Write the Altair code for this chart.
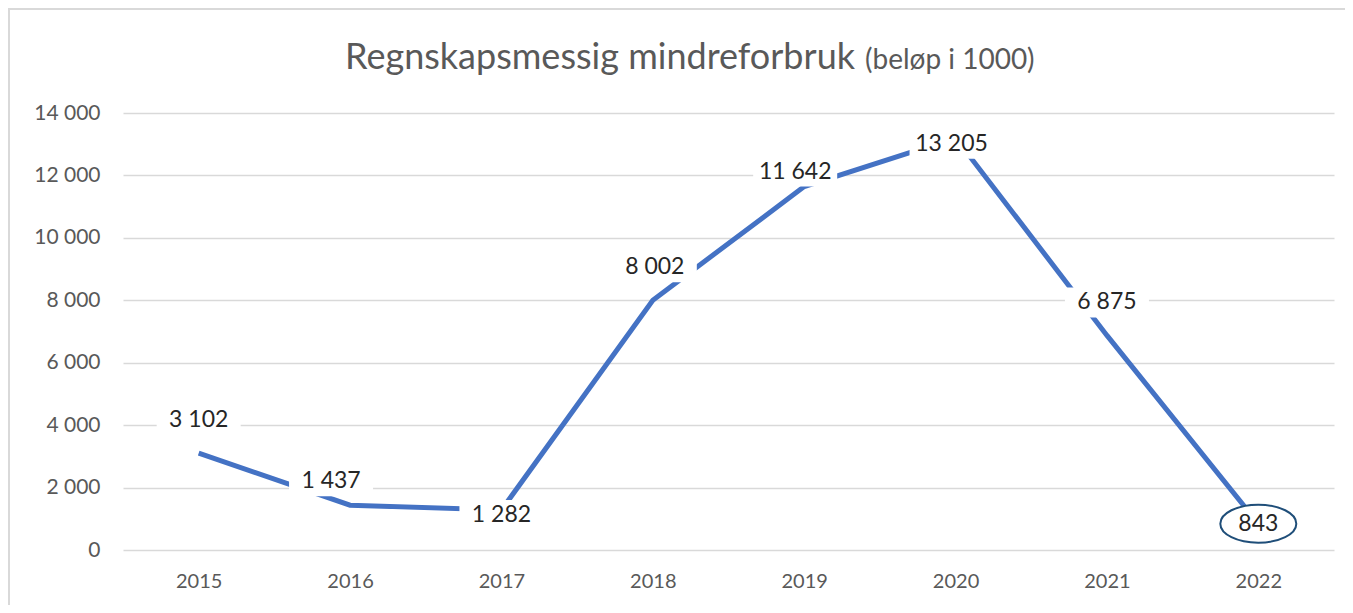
import altair as alt
import pandas as pd

# ---- data ----
years = ["2015", "2016", "2017", "2018", "2019", "2020", "2021", "2022"]
values = [3102, 1437, 1282, 8002, 11642, 13205, 6875, 843]
# label placement offsets (pixels) relative to each data point
label_dx = [0, -19, 0, 2, -9, -4, 0, 0]
label_dy = [-33, -24, 5, -33, -15, 6, -33, 0]
highlight_years = ["2022"]
y_ticks = [0, 2000, 4000, 6000, 8000, 10000, 12000, 14000]
title_main = "Regnskapsmessig mindreforbruk"
title_note = "(beløp i 1000)"

df = pd.DataFrame({"year": years, "value": values, "ldx": label_dx, "ldy": label_dy})

FONT = "Lato"
W, H = 1211, 437
YMAX = 14000
fmt_expr = ("datum.value >= 1000 ? floor(datum.value/1000) + ' ' + "
            "format(datum.value % 1000, '03d') : format(datum.value, 'd')")

x_enc = alt.X("year:N", sort=years,
              scale=alt.Scale(type="point", padding=0.5),
              axis=alt.Axis(title=None, labelAngle=0, labelFontSize=20, labelColor="#595959",
                            labelFont=FONT, labelPadding=21, ticks=False, domain=False, grid=False))
y_enc = alt.Y("value:Q", scale=alt.Scale(domain=[0, YMAX], nice=False),
              axis=alt.Axis(title=None, values=y_ticks, labelExpr=fmt_expr, labelFontSize=21,
                            labelColor="#595959", labelFont=FONT, labelPadding=23, ticks=False,
                            domain=False, grid=True, gridColor="#d9d9d9", gridWidth=1.5))

base = alt.Chart(df)

line = base.mark_line(color="#4472C4", strokeWidth=5).encode(x=x_enc, y=y_enc)

# label anchor: pixel offset converted to value units of the y scale
lab_base = base.transform_calculate(
    ly=f"datum.value - datum.ldy * {YMAX} / {H}",
    lab=fmt_expr,
)
lx = alt.X("year:N", sort=years)
ly = alt.Y("ly:Q")
lxo = alt.XOffset("ldx:Q", scale=None)

boxes = lab_base.mark_point(shape="M-2.8,-1H2.8V1H-2.8Z", size=900, filled=True,
                            fill="white", opacity=1, strokeWidth=0).encode(
    x=lx, y=ly, xOffset=lxo)

ellipse = lab_base.transform_filter(
    alt.FieldOneOfPredicate(field="year", oneOf=highlight_years)
).mark_point(shape="M-1,0A1,0.5 0 1,0 1,0A1,0.5 0 1,0 -1,0Z", size=5776, filled=False,
             fill="white", fillOpacity=1, stroke="#1F4E79", strokeWidth=2, opacity=1).encode(
    x=lx, y=ly, xOffset=lxo)

labels = lab_base.mark_text(
    font=FONT, fontSize=23, color="#262626", align="center", baseline="middle").encode(
    x=lx, y=ly, xOffset=lxo, text="lab:N")

tdf = pd.DataFrame({"main": [title_main], "note": [title_note]})
t_main = alt.Chart(tdf).mark_text(font=FONT, fontSize=36, color="#595959", align="right",
                                  baseline="alphabetic").encode(
    x=alt.value(732), y=alt.value(-44), text="main:N")
t_note = alt.Chart(tdf).mark_text(font=FONT, fontSize=28, color="#595959", align="left",
                                  baseline="alphabetic").encode(
    x=alt.value(742), y=alt.value(-44), text="note:N")

frame_top = alt.Chart(tdf).mark_rule(color="#d9d9d9", strokeWidth=2).encode(
    x=alt.value(-115), x2=alt.value(W + 11), y=alt.value(-104))
frame_left = alt.Chart(tdf).mark_rule(color="#d9d9d9", strokeWidth=2).encode(
    x=alt.value(-114), y=alt.value(-105), y2=alt.value(H + 60))

chart = alt.layer(frame_top, frame_left, line, boxes, ellipse, labels, t_main, t_note).properties(
    width=W, height=H,
    autosize=alt.AutoSizeParams(type="none"),
    padding={"left": 115, "top": 105, "right": 11, "bottom": 55},
    background="white",
).configure_view(stroke=None)

chart.save("out.html", embed_options={"renderer": "svg", "actions": False})
